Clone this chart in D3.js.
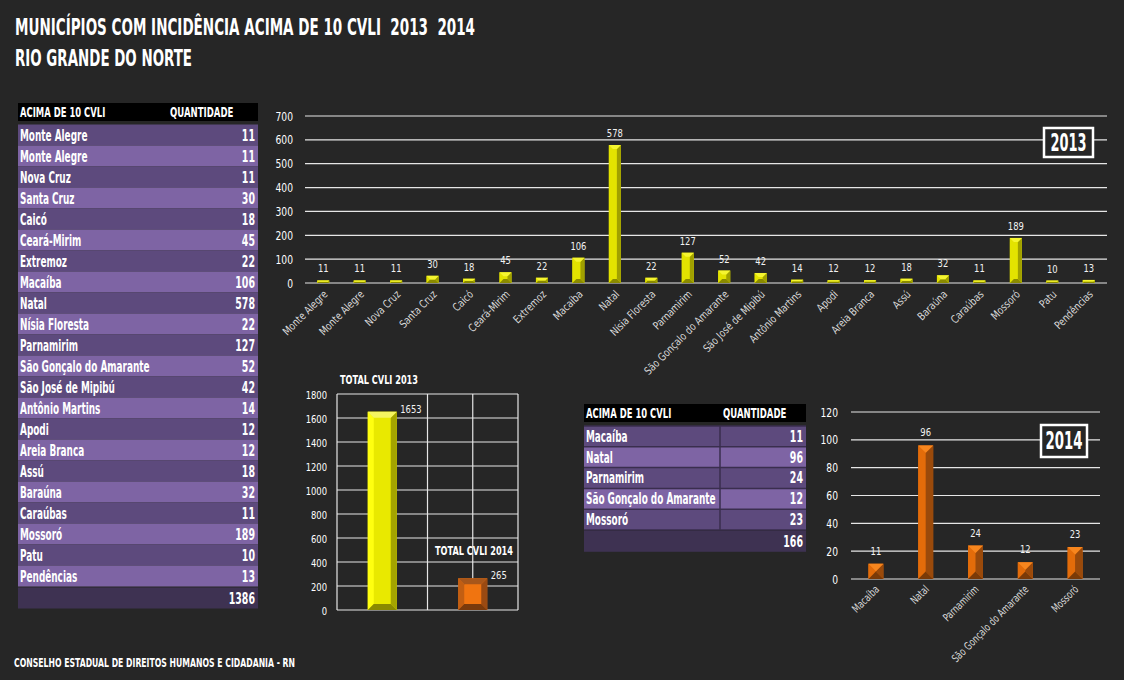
<!DOCTYPE html>
<html><head><meta charset="utf-8">
<script src="https://cdn.jsdelivr.net/npm/d3@7"></script>
<style>
body{margin:0;background:#262626;}
svg{display:block;}
text{font-family:'Liberation Sans Narrow','DejaVu Sans Condensed','Arial Narrow',sans-serif; white-space:pre;}
</style></head><body>
<svg id="c" width="1124" height="680"></svg>
<script>
// ---------- DATA ----------
const municipios2013 = ["Monte Alegre","Monte Alegre","Nova Cruz","Santa Cruz","Caicó","Ceará-Mirim","Extremoz","Macaíba","Natal","Nísia Floresta","Parnamirim","São Gonçalo do Amarante","São José de Mipibú","Antônio Martins","Apodi","Areia Branca","Assú","Baraúna","Caraúbas","Mossoró","Patu","Pendências"];
const cvli2013 = [11,11,11,30,18,45,22,106,578,22,127,52,42,14,12,12,18,32,11,189,10,13];
const municipios2014 = ["Macaíba","Natal","Parnamirim","São Gonçalo do Amarante","Mossoró"];
const cvli2014 = [11,96,24,12,23];
const totalLabels = ["TOTAL CVLI 2013","TOTAL CVLI 2014"];
const totalValues = [1653,265];
const tableTotal2013 = 1386;
const tableTotal2014 = 166;
const tableHeader = ["ACIMA DE 10 CVLI","QUANTIDADE"];
const ticks2013 = [0,100,200,300,400,500,600,700];
const ticksTotal = [0,200,400,600,800,1000,1200,1400,1600,1800];
const ticks2014 = [0,20,40,60,80,100,120];
const titleLines = ["MUNICÍPIOS COM INCIDÊNCIA ACIMA DE 10 CVLI  2013  2014","RIO GRANDE DO NORTE"];
const footer = "CONSELHO ESTADUAL DE DIREITOS HUMANOS E CIDADANIA - RN";

// ---------- HELPERS ----------
const svg = d3.select('#c');
svg.append('rect').attr('width',1124).attr('height',680).attr('fill','#262626');

function ntext(g, x, y, s, o={}) {
  const t = g.append('text')
    .attr('transform', `translate(${x},${y})` + (o.rot!==undefined?` rotate(${o.rot})`:'') + ` scale(${o.sx??1},1)`)
    .attr('text-anchor', o.anchor||'start')
    .attr('font-size', o.size||12)
    .attr('font-weight', o.bold?'bold':'normal')
    .attr('fill', o.fill||'#fff')
    .attr('xml:space','preserve')
    .text(s);
  if (o.len) t.attr('textLength', o.len).attr('lengthAdjust','spacingAndGlyphs');
  return t;
}
function bevelBar(g, x0, x1, yTop, yBot, pal, b) {
  const w = x1-x0, h = yBot-yTop;
  b = Math.max(0, Math.min(b, w/2, h/2));
  const poly = (pts, fill) => g.append('polygon').attr('points', pts.map(p=>p.join(',')).join(' ')).attr('fill', fill);
  g.append('rect').attr('x',x0).attr('y',yTop).attr('width',w).attr('height',h).attr('fill',pal.face);
  poly([[x0,yTop],[x0+b,yTop+b],[x0+b,yBot-b],[x0,yBot]], pal.left);
  poly([[x1,yTop],[x1,yBot],[x1-b,yBot-b],[x1-b,yTop+b]], pal.right);
  poly([[x0,yBot],[x0+b,yBot-b],[x1-b,yBot-b],[x1,yBot]], pal.bottom);
  poly([[x0,yTop],[x1,yTop],[x1-b,yTop+b],[x0+b,yTop+b]], pal.top);
}
const yellow = {face:'#e3e300', left:'#e3e300', right:'#a0a000', top:'#f5f530', bottom:'#8a8a00'};
const yellowBig = {face:'#e9e900', left:'#ffff10', right:'#a4a400', top:'#f5f560', bottom:'#8a8a00'};
const orange = {face:'#e36c0a', left:'#e36c0a', right:'#9a4a0b', top:'#f7861e', bottom:'#7a3a08'};
const orangeBig = {face:'#f07410', left:'#c25e12', right:'#9a4a12', top:'#a8561a', bottom:'#7a3a0c'};

// ---------- TITLE ----------
ntext(svg, 15, 35, titleLines[0], {size:23, bold:true, len:460});
ntext(svg, 15, 66, titleLines[1], {size:23, bold:true, len:177});
ntext(svg, 14, 667, footer, {size:12, bold:true, len:281});

// ---------- TABLE (generic) ----------
function drawTable(g, rows, vals, total, o) {
  g.append('rect').attr('x',o.x0).attr('y',o.hy0).attr('width',o.x1-o.x0).attr('height',o.hy1-o.hy0).attr('fill','#000');
  ntext(g, o.x0+2, o.hy1-4, tableHeader[0], {size:14, bold:true, sx:0.67});
  ntext(g, o.qx, o.hy1-4, tableHeader[1], {size:14, bold:true, sx:0.68});
  const ys = d3.scaleBand().domain(d3.range(rows.length+1)).range([o.ry0, o.ry0 + o.rh*(rows.length+1)]);
  rows.forEach((r,i) => {
    g.append('rect').attr('x',o.x0).attr('y',ys(i)).attr('width',o.x1-o.x0).attr('height',ys.bandwidth())
      .attr('fill', i%2===0 ? '#5d4a7d' : '#7e64a4');
    ntext(g, o.x0+2, ys(i)+o.rh-5, r, {size:15, bold:true, sx:0.66});
    ntext(g, o.x1-3, ys(i)+o.rh-5, vals[i], {size:15, bold:true, sx:0.7, anchor:'end'});
  });
  const ti = rows.length;
  g.append('rect').attr('x',o.x0).attr('y',ys(ti)+1).attr('width',o.x1-o.x0).attr('height',ys.bandwidth()).attr('fill','#3e3252');
  ntext(g, o.x1-3, ys(ti)+o.rh-4, total, {size:15, bold:true, sx:0.7, anchor:'end'});
  if (o.grid) {
    d3.range(rows.length+1).forEach(i => g.append('line').attr('x1',o.x0).attr('x2',o.x1).attr('y1',ys(i)).attr('y2',ys(i)).attr('stroke','#3a2e4e').attr('stroke-width',1.5));
    g.append('line').attr('x1',o.qx-3).attr('x2',o.qx-3).attr('y1',o.ry0).attr('y2',ys(ti)).attr('stroke','#3a2e4e').attr('stroke-width',1.5);
  }
}
drawTable(svg.append('g'), municipios2013, cvli2013, tableTotal2013, {x0:18, x1:258, hy0:103, hy1:121, qx:170, ry0:124.5, rh:21});
drawTable(svg.append('g'), municipios2014, cvli2014, tableTotal2014, {x0:584, x1:806, hy0:404, hy1:422, qx:723, ry0:426, rh:20.8, grid:true});

// ---------- TOP CHART 2013 ----------
{
  const g = svg.append('g');
  const x = d3.scaleBand().domain(d3.range(municipios2013.length)).range([305,1107]).paddingInner(0.67).paddingOuter(0.335);
  const y = d3.scaleLinear().domain([0,700]).range([283,116]);
  ticks2013.forEach(t => {
    g.append('line').attr('x1',305).attr('x2',1107).attr('y1',y(t)).attr('y2',y(t)).attr('stroke','#e6e6e6').attr('stroke-width',1.2);
    ntext(g, 293, y(t)+4.5, t, {size:12, anchor:'end', sx:0.85});
  });
  cvli2013.forEach((v,i) => {
    bevelBar(g, x(i), x(i)+x.bandwidth(), y(v), y(0), yellow, 4);
    ntext(g, x(i)+x.bandwidth()/2, y(v)-8, v, {size:11, anchor:'middle', fill:'#f2f2f2', sx:0.85});
    ntext(g, x(i)+x.bandwidth()/2+5, y(0)+12, municipios2013[i], {size:11, anchor:'end', rot:-45, fill:'#d9d9d9', sx:0.88});
  });
  g.append('rect').attr('x',1044).attr('y',128).attr('width',49).attr('height',29).attr('fill','#262626').attr('stroke','#fff').attr('stroke-width',2.5);
  ntext(g, 1068.5, 151, "2013", {size:24, bold:true, anchor:'middle', len:36});
}

// ---------- TOTALS CHART ----------
{
  const g = svg.append('g');
  const x = d3.scaleLinear().domain([0,4]).range([337,518]);
  const y = d3.scaleLinear().domain([0,1800]).range([610,394]);
  ticksTotal.forEach(t => {
    g.append('line').attr('x1',x(0)).attr('x2',x(4)).attr('y1',y(t)).attr('y2',y(t)).attr('stroke','#e6e6e6').attr('stroke-width',1.2);
    ntext(g, 327, y(t)+4.5, t, {size:11, anchor:'end', sx:0.85});
  });
  [0,2,3,4].forEach(v => g.append('line').attr('x1',x(v)).attr('x2',x(v)).attr('y1',y(1800)).attr('y2',y(0)).attr('stroke','#e6e6e6').attr('stroke-width',1.2));
  const pos = [1,3], pals = [yellowBig, orangeBig];
  totalValues.forEach((v,i) => {
    const cx = x(pos[i]);
    bevelBar(g, cx-14.5, cx+14.5, y(v), y(0), pals[i], 6);
    ntext(g, cx+18, y(v)+1, v, {size:11, fill:'#f2f2f2', sx:0.85});
  });
  ntext(g, 340, 384, totalLabels[0], {size:12, bold:true, len:78});
  ntext(g, 435, 555, totalLabels[1], {size:12, bold:true, len:78});
}

// ---------- 2014 CHART ----------
{
  const g = svg.append('g');
  const x = d3.scaleBand().domain(d3.range(municipios2014.length)).range([851,1100]).paddingInner(0.7).paddingOuter(0.35);
  const y = d3.scaleLinear().domain([0,120]).range([579,412]);
  ticks2014.forEach(t => {
    g.append('line').attr('x1',851).attr('x2',1100).attr('y1',y(t)).attr('y2',y(t)).attr('stroke','#e6e6e6').attr('stroke-width',1.2);
    ntext(g, 838, y(t)+4.5, t, {size:12, anchor:'end', sx:0.85});
  });
  cvli2014.forEach((v,i) => {
    bevelBar(g, x(i), x(i)+x.bandwidth(), y(v), y(0), orange, x.bandwidth()/2);
    ntext(g, x(i)+x.bandwidth()/2, y(v)-9, v, {size:11, anchor:'middle', fill:'#f2f2f2', sx:0.85});
    ntext(g, x(i)+x.bandwidth()/2+4, y(0)+11, municipios2014[i], {size:11, anchor:'end', rot:-45, fill:'#d9d9d9', sx:0.8});
  });
  g.append('rect').attr('x',1041).attr('y',425).attr('width',46).attr('height',32).attr('fill','#262626').attr('stroke','#fff').attr('stroke-width',2.5);
  ntext(g, 1064, 449, "2014", {size:24, bold:true, anchor:'middle', len:37});
}
</script>
</body></html>
